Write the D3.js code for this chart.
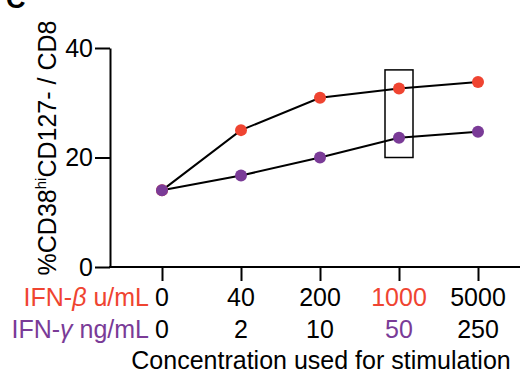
<!DOCTYPE html>
<meta charset="utf-8">
<body style="margin:0;background:#fff;">
<svg width="531" height="376"></svg>
</body>
<script src="https://cdn.jsdelivr.net/npm/d3@7"></script>
<script>
    // data
    let betaDose = ["0", "40", "200", "1000", "5000"];
    let gammaDose = ["0", "2", "10", "50", "250"];
    let betaVals = [14.0, 25.0, 30.9, 32.6, 33.8];
    let gammaVals = [14.0, 16.7, 20.0, 23.6, 24.7];
    let yTicks = [0, 20, 40];
    let highlight = 3; // boxed column (1000 / 50)

    let red = "#ef4431", purple = "#7a3b97";
    let font = "'Liberation Sans', Arial, Helvetica, sans-serif",
        fs = 25;

    let svg = d3.select("svg"),
        axisX = 110, axisRight = 520;

    let x = d3.scalePoint().domain(d3.range(betaDose.length)).range([162, 478]);
    let y = d3.scaleLinear().domain([0, 40]).range([267, 48]);

    // y axis
    let gy = svg.append("g")
        .attr("transform", `translate(${axisX},0)`)
        .call(d3.axisLeft(y).tickValues(yTicks).tickSize(15).tickPadding(2).tickSizeOuter(0));
    gy.select(".domain").attr("stroke-width", 2);
    gy.selectAll(".tick line").attr("stroke-width", 2);
    gy.selectAll(".tick text").attr("font-family", font).attr("font-size", fs).attr("fill", "#000");

    // x axis (ticks only, domain drawn across the full width)
    let gx = svg.append("g")
        .attr("transform", `translate(0,${y(0)})`)
        .call(d3.axisBottom(x).tickSize(14).tickFormat(""));
    gx.select(".domain").remove();
    gx.selectAll(".tick line").attr("stroke-width", 2);
    svg.append("line")
        .attr("x1", axisX - 1).attr("x2", axisRight)
        .attr("y1", y(0)).attr("y2", y(0))
        .attr("stroke", "#000").attr("stroke-width", 2);

    // dose rows
    let row = (labels, y0, color, name, greek) => {
        let t = svg.append("text")
            .attr("x", 149).attr("y", y0)
            .attr("text-anchor", "end")
            .attr("font-family", font).attr("font-size", fs)
            .attr("fill", color);
        t.append("tspan").text("IFN-");
        t.append("tspan").attr("font-style", "italic").text(greek);
        t.append("tspan").text(" " + name);
        svg.selectAll(null).data(labels).enter().append("text")
            .attr("x", (d, i) => x(i))
            .attr("y", y0)
            .attr("text-anchor", "middle")
            .attr("font-family", font).attr("font-size", fs)
            .attr("fill", (d, i) => i === highlight ? color : "#000")
            .text(d => d);
    };
    row(betaDose, 306, red, "u/mL", "β");
    row(gammaDose, 338, purple, "ng/mL", "γ");

    svg.append("text")
        .attr("x", 321).attr("y", 369)
        .attr("text-anchor", "middle")
        .attr("font-family", font).attr("font-size", fs)
        .text("Concentration used for stimulation");

    // y title
    let yt = svg.append("text")
        .attr("transform", `translate(56,148) rotate(-90)`)
        .attr("text-anchor", "middle")
        .attr("font-family", font).attr("font-size", fs);
    yt.append("tspan").text("%CD38");
    yt.append("tspan").attr("font-size", 15).attr("dy", -10).text("hi");
    yt.append("tspan").attr("dy", 10).text("CD127- / CD8");

    // panel letter, cut off by the top edge
    svg.append("text")
        .attr("x", 6).attr("y", 8)
        .attr("font-family", font).attr("font-size", 27).attr("font-weight", "bold")
        .text("C");

    // highlight box
    svg.append("rect")
        .attr("x", x(highlight) - 14).attr("width", 28)
        .attr("y", y(36)).attr("height", y(20) - y(36))
        .attr("fill", "none").attr("stroke", "#000").attr("stroke-width", 1.5);

    // series
    let line = d3.line().x((d, i) => x(i)).y(d => y(d));
    [betaVals, gammaVals].forEach(vals => {
        svg.append("path").datum(vals)
            .attr("d", line)
            .attr("fill", "none").attr("stroke", "#000").attr("stroke-width", 2);
    });
    [[betaVals, red], [gammaVals, purple]].forEach(([vals, c]) => {
        svg.selectAll(null).data(vals).enter().append("circle")
            .attr("cx", (d, i) => x(i)).attr("cy", d => y(d))
            .attr("r", 6).attr("fill", c);
    });
</script>
